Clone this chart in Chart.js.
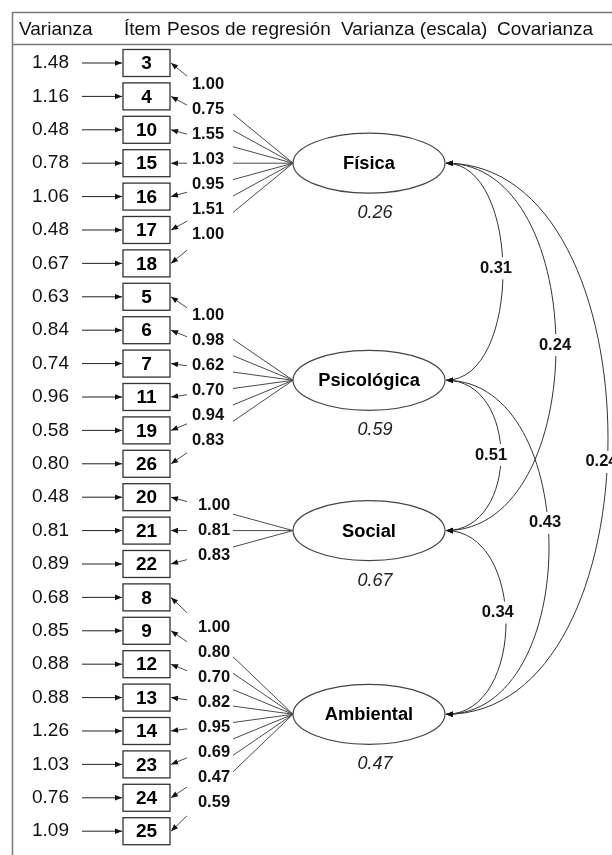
<!DOCTYPE html>
<html><head><meta charset="utf-8">
<script src="https://cdn.jsdelivr.net/npm/chart.js@4.4.1/dist/chart.umd.min.js"></script>
<style>html,body{margin:0;padding:0;background:#fff;overflow:hidden}canvas{display:block}</style>
</head><body>
<canvas id="c" width="612" height="855"></canvas>
<script>
// ---------- DATA ----------
const headers = ['Varianza', 'Ítem', 'Pesos de regresión', 'Varianza (escala)', 'Covarianza'];
const factors = ['Física', 'Psicológica', 'Social', 'Ambiental'];
const factorVariances = [0.26, 0.59, 0.67, 0.47];

const fisicaItems = ['3', '4', '10', '15', '16', '17', '18'];
const fisicaLoadings = [1.00, 0.75, 1.55, 1.03, 0.95, 1.51, 1.00];
const fisicaErrorVar = [1.48, 1.16, 0.48, 0.78, 1.06, 0.48, 0.67];

const psicoItems = ['5', '6', '7', '11', '19', '26'];
const psicoLoadings = [1.00, 0.98, 0.62, 0.70, 0.94, 0.83];
const psicoErrorVar = [0.63, 0.84, 0.74, 0.96, 0.58, 0.80];

const socialItems = ['20', '21', '22'];
const socialLoadings = [1.00, 0.81, 0.83];
const socialErrorVar = [0.48, 0.81, 0.89];

const ambientalItems = ['8', '9', '12', '13', '14', '23', '24', '25'];
const ambientalLoadings = [1.00, 0.80, 0.70, 0.82, 0.95, 0.69, 0.47, 0.59];
const ambientalErrorVar = [0.68, 0.85, 0.88, 0.88, 1.26, 1.03, 0.76, 1.09];

const covPairs = [[0, 1], [0, 2], [0, 3], [1, 2], [1, 3], [2, 3]];
const covValues = [0.31, 0.24, 0.24, 0.51, 0.43, 0.34];

// ---------- LAYOUT / STYLE ----------
const FONT = '"Liberation Sans", Arial, sans-serif';
const LAY = {
  headerX: [19, 124, 167, 341, 497], headerY: 30, headerFont: 19,
  varTextRight: 69, varArrowFrom: 82,
  boxCenterX: 146.5, boxW: 47, boxH: 27,
  factorX: 369, factorRx: 76, factorRy: 30,
  loadLabelX: [208, 208, 214, 214], loadLabelDy: [-4, -2.5, 0, 1], loadLabelStep: 25,
  gap: [187, 233],
  factorVarDy: 50, factorVarDx: 6,
  covBulge: [57, 110, 162, 55, 103, 60],
  covLabelFrac: [0.484, 0.495, 0.542, 0.497, 0.427, 0.446],
  covLabelDx: [-7, -1, -6, -10, -3, -8],
  yMin: -1.886, yMax: 23.713
};

const groups = [
  { items: fisicaItems, loadings: fisicaLoadings, errVar: fisicaErrorVar },
  { items: psicoItems, loadings: psicoLoadings, errVar: psicoErrorVar },
  { items: socialItems, loadings: socialLoadings, errVar: socialErrorVar },
  { items: ambientalItems, loadings: ambientalLoadings, errVar: ambientalErrorVar }
];
const allItems = [], allErrVar = [], itemFactor = [], factorRows = [];
groups.forEach((g, gi) => {
  const start = allItems.length;
  g.items.forEach((it, k) => { allItems.push(it); allErrVar.push(g.errVar[k]); itemFactor.push(gi); });
  factorRows.push(start + (g.items.length - 1) / 2);
});

function arrowHead(ctx, x, y, dx, dy, len, half) {
  const n = Math.hypot(dx, dy); dx /= n; dy /= n;
  ctx.beginPath();
  ctx.moveTo(x, y);
  ctx.lineTo(x - dx * len - dy * half, y - dy * len + dx * half);
  ctx.lineTo(x - dx * len + dy * half, y - dy * len - dx * half);
  ctx.closePath();
  ctx.fill();
}
function solveT(f) {
  let lo = 0, hi = 1;
  for (let i = 0; i < 40; i++) {
    const m = (lo + hi) / 2;
    if (3 * m * m - 2 * m * m * m < f) lo = m; else hi = m;
  }
  return (lo + hi) / 2;
}

const diagramPlugin = {
  id: 'diagram',
  afterDatasetsDraw(chart) {
    const ctx = chart.ctx;
    const xs = chart.scales.x;
    const X = v => xs.getPixelForValue(v);
    const itemPts = chart.getDatasetMeta(0).data;
    const facPts = chart.getDatasetMeta(1).data;
    ctx.save();
    ctx.textBaseline = 'middle';

    // frame
    ctx.strokeStyle = '#7a7a7a'; ctx.lineWidth = 1.5;
    ctx.beginPath(); ctx.moveTo(X(12.5), chart.height); ctx.lineTo(X(12.5), 12.5); ctx.lineTo(chart.width, 12.5); ctx.stroke();
    ctx.beginPath(); ctx.moveTo(X(12.5), 44.5); ctx.lineTo(chart.width, 44.5); ctx.stroke();

    // headers
    ctx.fillStyle = '#111'; ctx.textAlign = 'left';
    ctx.font = LAY.headerFont + 'px ' + FONT;
    headers.forEach((h, i) => ctx.fillText(h, X(LAY.headerX[i]), LAY.headerY));

    const boxL = X(LAY.boxCenterX - LAY.boxW / 2), boxR = X(LAY.boxCenterX + LAY.boxW / 2);
    const rx = X(LAY.factorRx) - X(0);

    // loading lines (factor -> item)
    ctx.strokeStyle = '#4a4a4a'; ctx.lineWidth = 1; ctx.fillStyle = '#111';
    itemPts.forEach((p, i) => {
      const f = facPts[itemFactor[i]];
      const fx = f.x - rx;
      ctx.beginPath(); ctx.moveTo(fx, f.y); ctx.lineTo(boxR + 1, p.y); ctx.stroke();
      arrowHead(ctx, boxR + 1, p.y, boxR + 1 - fx, p.y - f.y, 7, 2.8);
    });
    // gap for loading labels
    ctx.fillStyle = '#fff';
    ctx.fillRect(X(LAY.gap[0]), 46, X(LAY.gap[1]) - X(LAY.gap[0]), chart.height - 46);

    // loading labels
    ctx.fillStyle = '#111'; ctx.font = 'bold 16.5px ' + FONT; ctx.textAlign = 'center';
    groups.forEach((g, gi) => {
      const f = facPts[gi];
      const n = g.loadings.length;
      g.loadings.forEach((v, k) => {
        const y = f.y + LAY.loadLabelDy[gi] + (k - (n - 1) / 2) * LAY.loadLabelStep;
        ctx.fillText(v.toFixed(2), X(LAY.loadLabelX[gi]), y);
      });
    });

    // error variances + arrows + boxes
    itemPts.forEach((p, i) => {
      ctx.fillStyle = '#111'; ctx.font = '19px ' + FONT; ctx.textAlign = 'right';
      ctx.fillText(allErrVar[i].toFixed(2), X(LAY.varTextRight), p.y);
      ctx.strokeStyle = '#222'; ctx.lineWidth = 1;
      ctx.beginPath(); ctx.moveTo(X(LAY.varArrowFrom), p.y); ctx.lineTo(boxL - 1, p.y); ctx.stroke();
      arrowHead(ctx, boxL - 1, p.y, 1, 0, 7, 2.8);
      ctx.fillStyle = '#fff';
      ctx.fillRect(boxL, p.y - LAY.boxH / 2, boxR - boxL, LAY.boxH);
      ctx.strokeStyle = '#333'; ctx.lineWidth = 1.3;
      ctx.strokeRect(boxL, p.y - LAY.boxH / 2, boxR - boxL, LAY.boxH);
      ctx.fillStyle = '#000'; ctx.font = 'bold 19px ' + FONT; ctx.textAlign = 'center';
      ctx.fillText(allItems[i], p.x, p.y + 1);
    });

    // covariance curves
    covPairs.forEach((pr, ci) => {
      const a = facPts[pr[0]], b = facPts[pr[1]];
      const x0 = a.x + rx + 1, y0 = a.y, y1 = b.y;
      const c = LAY.covBulge[ci] / 0.75;
      ctx.strokeStyle = '#333'; ctx.lineWidth = 1;
      ctx.beginPath(); ctx.moveTo(x0, y0);
      ctx.bezierCurveTo(x0 + c, y0, x0 + c, y1, x0, y1); ctx.stroke();
      ctx.fillStyle = '#111';
      arrowHead(ctx, x0, y0, -1, 0, 7, 2.8);
      arrowHead(ctx, x0, y1, -1, 0, 7, 2.8);
      const t = solveT(LAY.covLabelFrac[ci]);
      const bx = x0 + 3 * c * t * (1 - t) + LAY.covLabelDx[ci];
      const by = y0 + (y1 - y0) * LAY.covLabelFrac[ci];
      ctx.font = 'bold 16.5px ' + FONT; ctx.textAlign = 'center';
      const w = ctx.measureText(covValues[ci].toFixed(2)).width;
      ctx.fillStyle = '#fff'; ctx.fillRect(bx - w / 2 - 3, by - 11, w + 6, 22);
      ctx.fillStyle = '#111'; ctx.fillText(covValues[ci].toFixed(2), bx, by);
    });

    // factors
    facPts.forEach((p, fi) => {
      ctx.beginPath();
      ctx.ellipse(p.x, p.y, rx, LAY.factorRy, 0, 0, Math.PI * 2);
      ctx.fillStyle = '#fff'; ctx.fill();
      ctx.strokeStyle = '#444'; ctx.lineWidth = 1.2; ctx.stroke();
      ctx.fillStyle = '#000'; ctx.font = 'bold 18.3px ' + FONT; ctx.textAlign = 'center';
      ctx.fillText(factors[fi], p.x, p.y + 1);
      ctx.fillStyle = '#222'; ctx.font = 'italic 18px ' + FONT;
      ctx.fillText(factorVariances[fi].toFixed(2), p.x + LAY.factorVarDx, p.y + LAY.factorVarDy);
    });
    ctx.restore();
  }
};

new Chart(document.getElementById('c'), {
  type: 'scatter',
  data: {
    datasets: [
      { label: 'items', data: allItems.map((it, i) => ({ x: LAY.boxCenterX, y: i })), pointRadius: 0 },
      { label: 'factors', data: factorRows.map(r => ({ x: LAY.factorX, y: r })), pointRadius: 0 }
    ]
  },
  options: {
    responsive: false, animation: false,
    layout: { padding: 0 },
    scales: {
      x: { type: 'linear', min: 0, max: 612, display: false },
      y: { type: 'linear', min: LAY.yMin, max: LAY.yMax, reverse: true, display: false }
    },
    plugins: { legend: { display: false }, tooltip: { enabled: false } }
  },
  plugins: [diagramPlugin]
});
</script>
</body></html>
